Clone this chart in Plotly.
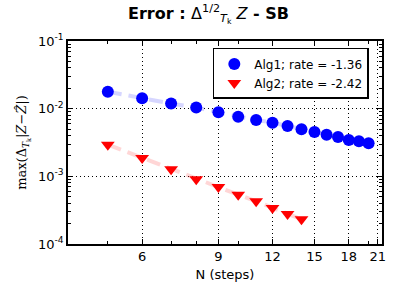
import plotly.graph_objects as go

# Data
n_alg1 = [5, 6, 7, 8, 9, 10, 11, 12, 13, 14, 15, 16, 17, 18, 19, 20]
err_alg1 = [0.0178, 0.0142, 0.0119, 0.0104, 0.00884, 0.00762, 0.00681, 0.00621,
            0.00555, 0.00496, 0.00452, 0.00413, 0.00381, 0.00344, 0.00330, 0.00308]
n_alg2 = [5, 6, 7, 8, 9, 10, 11, 12, 13, 14]
err_alg2 = [0.00294, 0.00187, 0.00127, 0.000904, 0.000697, 0.000536, 0.000428,
            0.000340, 0.000277, 0.000232]
label_alg1 = "Alg1; rate = -1.36"
label_alg2 = "Alg2; rate = -2.42"
x_ticks = [6, 9, 12, 15, 18, 21]
y_ticks = [1e-4, 1e-3, 1e-2, 1e-1]
y_ticklabels = ["10<sup>-4</sup>", "10<sup>-3</sup>", "10<sup>-2</sup>", "10<sup>-1</sup>"]

FONT = "DejaVu Sans"

fig = go.Figure()
fig.add_trace(go.Scatter(x=n_alg1, y=err_alg1, mode="lines", showlegend=False,
                         line=dict(color="rgba(70,70,255,0.22)", width=4, dash="14px,7px"),
                         hoverinfo="skip"))
fig.add_trace(go.Scatter(x=n_alg2, y=err_alg2, mode="lines", showlegend=False,
                         line=dict(color="rgba(255,70,70,0.22)", width=4, dash="14px,7px"),
                         hoverinfo="skip"))
fig.add_trace(go.Scatter(x=n_alg1, y=err_alg1, mode="markers", name=label_alg1,
                         marker=dict(symbol="circle", size=12, color="#0000ff",
                                     line=dict(width=0))))
fig.add_trace(go.Scatter(x=n_alg2, y=err_alg2, mode="markers", name=label_alg2,
                         marker=dict(symbol="triangle-down", size=12, color="#ff0000",
                                     line=dict(width=0))))

axis_common = dict(
    showline=True, linecolor="black", linewidth=1.5, mirror="ticks",
    ticks="inside", ticklen=5, tickcolor="black", tickwidth=1,
    showgrid=True, gridcolor="black", gridwidth=1, griddash="1px,3px",
    zeroline=False, automargin=False,
    tickfont=dict(family=FONT, size=13, color="black"),
)

fig.update_xaxes(type="log", range=[0.607, 1.332], tickvals=x_ticks,
                 ticktext=[str(v) for v in x_ticks],
                 minor=dict(tickvals=[4, 5, 7, 8, 10, 20], ticks="inside", ticklen=3,
                            tickcolor="black", showgrid=False),
                 title=dict(text="N (steps)", font=dict(family=FONT, size=13, color="black"),
                            standoff=7),
                 **axis_common)
fig.update_yaxes(type="log", range=[-4, -1], tickvals=y_ticks, ticktext=y_ticklabels,
                 minor=dict(dtick="D1", ticks="inside", ticklen=3, tickcolor="black",
                            showgrid=False),
                 title=dict(text="max(Δ<sub><i>T</i><sub>k</sub></sub>|<i>Z</i>−<i>Ẑ</i>|)",
                            font=dict(family="DejaVu Serif", size=13, color="black"),
                            standoff=8),
                 **axis_common)

fig.update_layout(
    width=417, height=292,
    margin=dict(l=68, r=35, t=41, b=48),
    paper_bgcolor="white", plot_bgcolor="white",
    title=dict(text="<b>Error : </b>Δ<sup>1/2</sup><sub><i>T</i><sub>k</sub></sub> <i>Z</i><b> - SB</b>",
               x=0.5, xanchor="center", y=0.955, yanchor="middle",
               font=dict(family=FONT, size=16, color="black")),
    legend=dict(x=0.958, xanchor="right", y=0.966, yanchor="top",
                bgcolor="white", bordercolor="black", borderwidth=1.5,
                font=dict(family=FONT, size=12, color="black"),
                itemwidth=30, tracegroupgap=0),
    showlegend=True,
)

fig.write_html("out.html", config={"displayModeBar": False},
               post_script="document.body.style.margin='0';")
